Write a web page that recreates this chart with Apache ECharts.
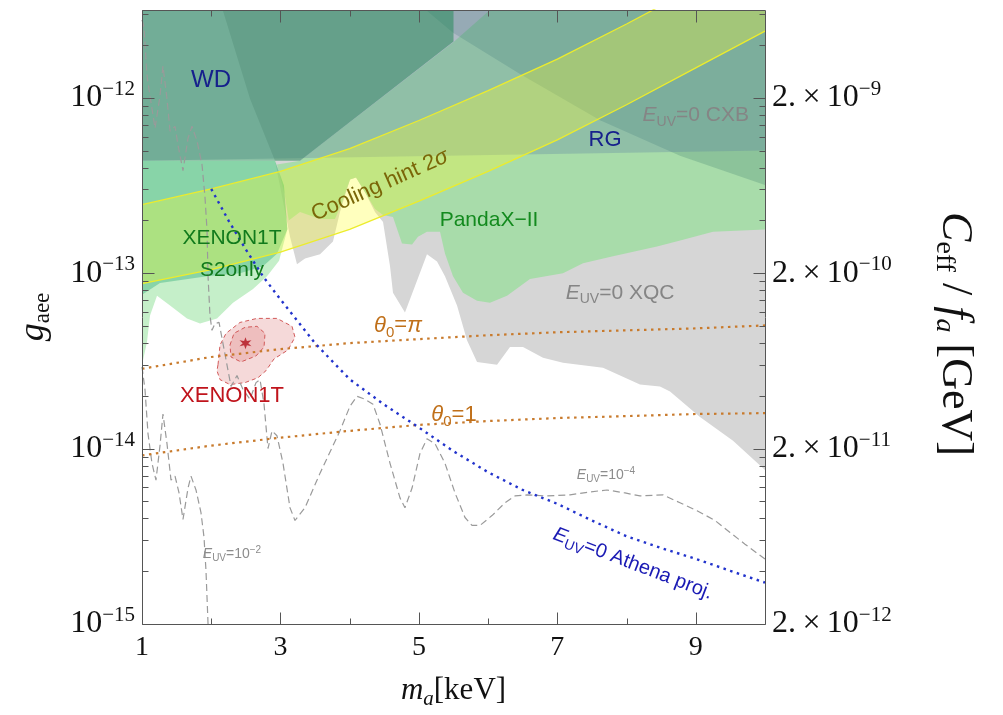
<!DOCTYPE html>
<html>
<head>
<meta charset="utf-8">
<script src="https://cdn.jsdelivr.net/npm/echarts@6/dist/echarts.min.js"></script>
<style>
  html, body { margin: 0; padding: 0; background: #ffffff; }
  #chart { width: 1003px; height: 715px; }
</style>
</head>
<body>
<div id="chart"></div>
<script>
// Axion mass m_a [keV] on x; couplings are stored as log10(g_aee) on y.
const X_MIN = 1, X_MAX = 10, Y_MIN = -15, Y_MAX = -11.5;

// Tick values
const massTicks = [1, 3, 5, 7, 9];
const massMinorTicks = [2, 4, 6, 8];
const decadeTicks = [-15, -14, -13, -12];
const minorMultipliers = [2, 3, 4, 5, 6, 7, 8, 9];

// Excluded / preferred regions (outline points, [m_a, log10 g])
const xqcRegion = [[2.127,-11.45],[2.56,-12.006],[2.921,-12.36],[3.138,-12.792],[3.239,-12.949],[3.355,-12.916],[3.572,-12.893],[3.759,-12.82],[3.86,-12.652],[4.005,-12.466],[4.092,-12.455],[4.222,-12.539],[4.366,-12.652],[4.482,-12.708],[4.583,-12.961],[4.626,-13.112],[4.799,-13.225],[4.944,-13.073],[5.117,-12.893],[5.262,-12.933],[5.377,-13.017],[5.551,-13.185],[5.695,-13.382],[5.84,-13.506],[6.129,-13.522],[6.316,-13.421],[6.504,-13.421],[6.793,-13.483],[7.082,-13.511],[7.66,-13.539],[8.194,-13.635],[8.483,-13.646],[8.628,-13.674],[9.061,-13.82],[9.538,-13.955],[10.05,-14.14],[10.05,-11.45]];
const pandaxRegion = [[2.95,-12.38],[3.06,-12.55],[3.12,-12.70],[3.283,-12.652],[3.572,-12.691],[3.788,-12.691],[3.889,-12.596],[4.005,-12.466],[4.092,-12.455],[4.222,-12.539],[4.366,-12.635],[4.482,-12.669],[4.626,-12.68],[4.756,-12.831],[4.901,-12.837],[4.987,-12.792],[5.117,-12.764],[5.305,-12.764],[5.377,-12.888],[5.493,-13.017],[5.637,-13.112],[5.84,-13.157],[6.027,-13.169],[6.273,-13.129],[6.605,-13.034],[7.082,-13.0],[7.371,-12.944],[7.804,-12.904],[8.44,-12.848],[8.816,-12.809],[9.249,-12.764],[10.05,-12.75],[10.05,-11.45],[6.17,-11.45],[5.493,-11.685],[3.283,-12.36]];
const s2onlyOuter = [[0.98,-12.36],[0.98,-13.56],[1.072,-13.393],[1.116,-13.242],[1.217,-13.129],[1.405,-13.185],[1.65,-13.258],[1.838,-13.287],[2.083,-13.258],[2.315,-13.169],[2.604,-13.09],[2.806,-13.017],[2.98,-12.93],[3.1,-12.75],[3.05,-12.5],[2.921,-12.36]];
const s2onlyInner = [[0.98,-12.36],[0.98,-13.129],[1.26,-13.056],[1.939,-13.017],[2.416,-13.0],[2.748,-12.961],[2.95,-12.89],[3.1,-12.75],[3.05,-12.5],[2.921,-12.36]];
const cxbRegion = [[4.95,-11.45],[5.493,-11.629],[6.461,-11.865],[7.617,-12.129],[8.772,-12.331],[10.05,-12.505],[10.05,-11.45]];
const rgRegion = [[0.98,-11.45],[10.05,-11.45],[10.05,-12.30],[0.98,-12.36]];
const wdRegion = [[0.98,-11.45],[5.5,-11.45],[5.5,-11.68],[3.283,-12.36],[0.98,-12.36]];

// Cooling hint 2 sigma band edges
const coolingUpper = [[1,-12.61],[2,-12.52],[3,-12.42],[4,-12.29],[5,-12.13],[6,-11.96],[7,-11.78],[8,-11.58],[9,-11.37],[10,-11.16]];
const coolingLower = [[1,-13.06],[2,-12.98],[3,-12.88],[4,-12.75],[5,-12.59],[6,-12.42],[7,-12.24],[8,-12.04],[9,-11.83],[10,-11.62]];

// XENON1T electron-recoil fit contours and best fit
const xenonOuter = [[2.098,-13.522],[2.127,-13.41],[2.214,-13.343],[2.416,-13.281],[2.661,-13.258],[2.95,-13.258],[3.167,-13.303],[3.21,-13.365],[3.109,-13.438],[2.907,-13.489],[2.791,-13.556],[2.676,-13.596],[2.488,-13.624],[2.271,-13.635],[2.127,-13.607],[2.083,-13.556]];
const xenonInner = [[2.271,-13.41],[2.329,-13.343],[2.488,-13.309],[2.661,-13.303],[2.777,-13.343],[2.763,-13.421],[2.647,-13.472],[2.43,-13.506],[2.286,-13.478]];
const xenonBest = [[2.495,-13.399]];

// Theta_0 benchmark lines
const thetaPi = [[1,-13.545],[2,-13.478],[3,-13.433],[4,-13.399],[5,-13.376],[6,-13.354],[7,-13.337],[8,-13.326],[9,-13.315],[10,-13.298]];
const thetaOne = [[1,-14.039],[2,-13.983],[3,-13.938],[4,-13.899],[5,-13.865],[6,-13.843],[7,-13.826],[8,-13.815],[9,-13.803],[10,-13.798]];

// Athena projection, E_UV = 0
const athena = [[2.0,-12.52],[2.25,-12.70],[2.5,-12.865],[2.75,-13.02],[3.0,-13.15],[3.5,-13.40],[4.0,-13.605],[4.5,-13.75],[5.0,-13.88],[5.5,-14.015],[6.0,-14.135],[6.5,-14.236],[7.0,-14.315],[7.5,-14.41],[8.0,-14.50],[8.5,-14.567],[9.0,-14.629],[9.5,-14.697],[10.0,-14.764]];

// E_UV = 1e-4 and 1e-2 curves
const euv4 = [[1.0,-11.556],[1.029,-11.596],[1.072,-11.876],[1.144,-12.062],[1.188,-12.174],[1.26,-11.989],[1.303,-11.82],[1.361,-12.006],[1.405,-12.191],[1.477,-12.163],[1.52,-12.27],[1.592,-12.416],[1.665,-12.23],[1.722,-12.163],[1.795,-12.247],[1.867,-12.382],[1.91,-12.567],[1.939,-12.753],[1.954,-13.017],[1.982,-13.242],[2.011,-13.326],[2.055,-13.287],[2.113,-13.281],[2.214,-13.494],[2.286,-13.646],[2.372,-13.584],[2.459,-13.663],[2.56,-13.719],[2.647,-13.624],[2.705,-13.607],[2.763,-13.747],[2.82,-14.0],[2.878,-13.899],[2.95,-13.927],[3.037,-14.084],[3.138,-14.337],[3.21,-14.41],[3.355,-14.337],[3.572,-14.14],[3.86,-13.899],[4.005,-13.758],[4.106,-13.702],[4.222,-13.719],[4.337,-13.747],[4.438,-13.86],[4.583,-14.084],[4.727,-14.281],[4.799,-14.337],[4.901,-14.225],[5.016,-14.028],[5.117,-13.944],[5.233,-13.972],[5.377,-14.084],[5.522,-14.253],[5.666,-14.393],[5.767,-14.438],[5.883,-14.438],[6.056,-14.382],[6.244,-14.309],[6.389,-14.27],[6.562,-14.264],[6.851,-14.27],[7.183,-14.264],[7.472,-14.247],[7.718,-14.236],[7.978,-14.253],[8.194,-14.27],[8.527,-14.264],[8.772,-14.309],[9.018,-14.354],[9.278,-14.41],[9.495,-14.478],[9.711,-14.545],[10.0,-14.63]];
const euv2 = [[1.0,-13.534],[1.043,-13.663],[1.087,-13.916],[1.144,-14.084],[1.202,-14.18],[1.26,-13.983],[1.303,-13.803],[1.361,-13.972],[1.419,-14.18],[1.477,-14.157],[1.535,-14.253],[1.592,-14.404],[1.665,-14.225],[1.708,-14.157],[1.78,-14.236],[1.852,-14.365],[1.896,-14.506],[1.925,-14.702],[1.954,-15.0],[1.968,-15.4]];

// In-plot labels
const annotations = [
  { text: '{t|WD}', at: [1.997, -11.899], size: 24, color: '#16208c' },
  { text: '{t|RG}', at: [7.689, -12.242], size: 22, color: '#16208c' },
  { text: '{e|E}{s|UV}{t|=0 CXB}', at: [9.0, -12.101], size: 21, color: '#858585' },
  { text: '{t|Cooling hint 2}{e|σ}', at: [4.438, -12.5], size: 22, color: '#7a6608', rot: 24 },
  { text: '{t|PandaX−II}', at: [6.013, -12.697], size: 21, color: '#138a1e' },
  { text: '{t|XENON1T}', at: [2.3, -12.803], size: 21, color: '#117a1c' },
  { text: '{t|S2only}', at: [2.3, -12.983], size: 21, color: '#117a1c' },
  { text: '{t|XENON1T}', at: [2.3, -13.702], size: 22, color: '#c0141c' },
  { text: '{e|E}{s|UV}{t|=0 XQC}', at: [7.906, -13.112], size: 21, color: '#858585' },
  { text: '{e|θ}{s|0}{t|=}{e|π}', at: [4.698, -13.298], size: 22, color: '#c0701a' },
  { text: '{e|θ}{s|0}{t|=1}', at: [5.507, -13.809], size: 22, color: '#c0701a' },
  { text: '{e|E}{s|UV}{t|=10}{p|−4}', at: [7.703, -14.152], size: 14, color: '#8c8c8c' },
  { text: '{e|E}{s|UV}{t|=10}{p|−2}', at: [2.3, -14.601], size: 14, color: '#8c8c8c' },
  { text: '{e|E}{s|UV}{t|=0 Athena proj.}', at: [8.093, -14.657], size: 20, color: '#1a1ab4', rot: -21 }
];

const SANS = "'Liberation Sans', Arial, Helvetica, sans-serif";
const SERIF = "'Liberation Serif', 'Times New Roman', serif";
const FRAME = '#555555';

function makeRich(size, color) {
  const lh = Math.round(size * 1.3);
  return {
    t: { fontSize: size, fontFamily: SANS, fill: color, lineHeight: lh },
    e: { fontSize: size, fontFamily: SANS, fontStyle: 'italic', fill: color, lineHeight: lh },
    s: { fontSize: Math.round(size * 0.68), fontFamily: SANS, fill: color, verticalAlign: 'bottom', lineHeight: Math.round(size * 0.8) },
    p: { fontSize: Math.round(size * 0.68), fontFamily: SANS, fill: color, verticalAlign: 'top', lineHeight: Math.round(size * 0.6) }
  };
}

function region(name, pts, fill, extra) {
  return {
    type: 'custom', name, clip: true, silent: true, animation: false,
    data: [pts[0]],
    renderItem: (params, api) => ({
      type: 'polygon',
      shape: { points: pts.map(p => api.coord(p)) },
      style: Object.assign({ fill }, extra || {})
    })
  };
}

function curve(name, pts, color, width, dash) {
  return {
    type: 'line', name, data: pts, showSymbol: false, silent: true, animation: false,
    clip: true,
    lineStyle: { color, width, type: dash, cap: 'butt' }
  };
}

const coolingBand = coolingUpper.concat(coolingLower.slice().reverse());

const chart = echarts.init(document.getElementById('chart'), null, { renderer: 'canvas' });

const supLabel = {
  b: { fontSize: 32, fontFamily: SERIF, color: '#111', lineHeight: 38 },
  s: { fontSize: 21, fontFamily: SERIF, color: '#111', verticalAlign: 'top', lineHeight: 23 }
};

chart.setOption({
  animation: false,
  backgroundColor: '#ffffff',
  grid: { left: 142, right: 238, top: 10, bottom: 82, containLabel: false },
  xAxis: {
    type: 'value', min: X_MIN, max: X_MAX, interval: 2,
    axisLine: { show: false }, axisTick: { show: false }, splitLine: { show: false },
    axisLabel: {
      formatter: v => (massTicks.indexOf(v) >= 0 ? String(v) : ''),
      fontSize: 28, fontFamily: SERIF, color: '#111', margin: 10
    },
    name: '{m|m}{a|a}{k|[keV]}',
    nameLocation: 'middle', nameGap: 48,
    nameTextStyle: {
      rich: {
        m: { fontSize: 31, fontFamily: SERIF, fontStyle: 'italic', color: '#111', lineHeight: 38 },
        a: { fontSize: 21, fontFamily: SERIF, fontStyle: 'italic', color: '#111', verticalAlign: 'bottom', lineHeight: 26 },
        k: { fontSize: 31, fontFamily: SERIF, color: '#111', lineHeight: 38 }
      }
    }
  },
  yAxis: [
    {
      type: 'value', min: Y_MIN, max: Y_MAX, interval: 1, position: 'left',
      axisLine: { show: false }, axisTick: { show: false }, splitLine: { show: false },
      axisLabel: {
        formatter: v => (Number.isInteger(v) ? '{b|10}{s|−' + (-v) + '}' : ''),
        rich: supLabel, margin: 7
      },
      name: '{g|g}{s|aee}',
      nameLocation: 'middle', nameGap: 88,
      nameTextStyle: {
        rich: {
          g: { fontSize: 36, fontFamily: SERIF, fontStyle: 'italic', color: '#111', lineHeight: 40 },
          s: { fontSize: 23, fontFamily: SERIF, color: '#111', verticalAlign: 'bottom', lineHeight: 26 }
        }
      }
    },
    {
      type: 'value', min: Y_MIN, max: Y_MAX, interval: 1, position: 'right',
      axisLine: { show: false }, axisTick: { show: false }, splitLine: { show: false },
      axisLabel: {
        formatter: v => (Number.isInteger(v) ? '{b|2.\u2009×\u200910}{s|−' + (-(v + 3)) + '}' : ''),
        rich: supLabel, margin: 7
      },
      name: '{c|C}{e|eff}{t| / }{f|f}{a|a}{t| [GeV]}',
      nameLocation: 'middle', nameGap: 165, nameRotate: -90,
      nameTextStyle: {
        padding: [0, 0, 0, 34],
        rich: {
          c: { fontSize: 44, fontFamily: SERIF, fontStyle: 'italic', color: '#111', lineHeight: 50 },
          e: { fontSize: 28, fontFamily: SERIF, color: '#111', verticalAlign: 'bottom', lineHeight: 34 },
          t: { fontSize: 44, fontFamily: SERIF, color: '#111', lineHeight: 50 },
          f: { fontSize: 44, fontFamily: SERIF, fontStyle: 'italic', color: '#111', lineHeight: 50 },
          a: { fontSize: 28, fontFamily: SERIF, fontStyle: 'italic', color: '#111', verticalAlign: 'bottom', lineHeight: 34 }
        }
      }
    }
  ],
  series: [
    region('XQC', xqcRegion, '#d6d6d6'),
    region('PandaX-II', pandaxRegion, '#a8dcaa'),
    region('S2only outer', s2onlyOuter, 'rgba(110,215,120,0.40)'),
    region('S2only inner', s2onlyInner, 'rgba(75,185,135,0.50)'),
    region('CXB', cxbRegion, 'rgba(28,95,90,0.20)'),
    region('RG', rgRegion, 'rgba(88,127,163,0.30)'),
    region('WD', wdRegion, 'rgba(40,139,90,0.55)'),
    region('Cooling hint', coolingBand, 'rgba(255,255,40,0.30)'),
    curve('Cooling upper', coolingUpper, '#ecec2c', 1.3, 'solid'),
    curve('Cooling lower', coolingLower, '#ecec2c', 1.3, 'solid'),
    region('XENON1T 2sigma', xenonOuter, 'rgba(214,96,96,0.24)', { stroke: '#d25a5a', lineWidth: 1, lineDash: [4, 3] }),
    region('XENON1T 1sigma', xenonInner, 'rgba(214,96,96,0.22)', { stroke: '#d25a5a', lineWidth: 1, lineDash: [4, 3] }),
    curve('E_UV 1e-4', euv4, '#9a9a9a', 1.2, [7, 4]),
    curve('E_UV 1e-2', euv2, '#9a9a9a', 1.2, [7, 4]),
    curve('theta pi', thetaPi, '#c87a2c', 2.2, [2.5, 4.5]),
    curve('theta 1', thetaOne, '#c87a2c', 2.2, [2.5, 4.5]),
    curve('Athena', athena, '#2233cc', 2.4, [2.5, 4.5]),
    {
      type: 'scatter', name: 'best fit', data: xenonBest, silent: true, animation: false,
      symbol: 'path://M0,-10 L2,-3.46 L8.66,-5 L4,0 L8.66,5 L2,3.46 L0,10 L-2,3.46 L-8.66,5 L-4,0 L-8.66,-5 L-2,-3.46 Z',
      symbolSize: 12, itemStyle: { color: '#b0101c' }, z: 5
    },
    {
      type: 'custom', name: 'labels', silent: true, animation: false, clip: false, z: 6,
      data: annotations.map(a => a.at),
      renderItem: (params, api) => {
        const a = annotations[params.dataIndex];
        const p = api.coord(a.at);
        return {
          type: 'text', x: p[0], y: p[1], rotation: (a.rot || 0) * Math.PI / 180,
          style: { text: a.text, rich: makeRich(a.size, a.color), align: 'center', verticalAlign: 'middle' }
        };
      }
    },
    {
      type: 'custom', name: 'frame', silent: true, animation: false, clip: false, z: 7,
      data: [[X_MIN, Y_MIN]],
      renderItem: (params, api) => {
        const ch = [];
        const st = { stroke: FRAME, lineWidth: 1 };
        const r = v => Math.round(v) + 0.5;
        const seg = (x1, y1, x2, y2) => ch.push({ type: 'line', shape: { x1, y1, x2, y2 }, style: st });
        const bl = api.coord([X_MIN, Y_MIN]);
        const tr = api.coord([X_MAX, Y_MAX]);
        const xl = r(bl[0]), yb = r(bl[1]), xr = r(tr[0]), yt = r(tr[1]);
        const xTick = (m, len) => { const x = r(api.coord([m, Y_MIN])[0]); seg(x, yb, x, yb - len); seg(x, yt, x, yt + len); };
        const yTick = (v, len) => { const y = r(api.coord([X_MIN, v])[1]); seg(xl, y, xl + len, y); seg(xr, y, xr - len, y); };
        massTicks.forEach(m => xTick(m, 12));
        massMinorTicks.forEach(m => xTick(m, 6));
        decadeTicks.forEach(v => {
          yTick(v, 12);
          minorMultipliers.forEach(k => {
            const lv = v + Math.log10(k);
            if (lv <= Y_MAX + 1e-9) yTick(lv, 6);
          });
        });
        ch.push({ type: 'rect', shape: { x: xl, y: yt, width: xr - xl, height: yb - yt }, style: { fill: 'none', stroke: FRAME, lineWidth: 1 } });
        return { type: 'group', children: ch };
      }
    }
  ]
});
</script>
</body>
</html>
